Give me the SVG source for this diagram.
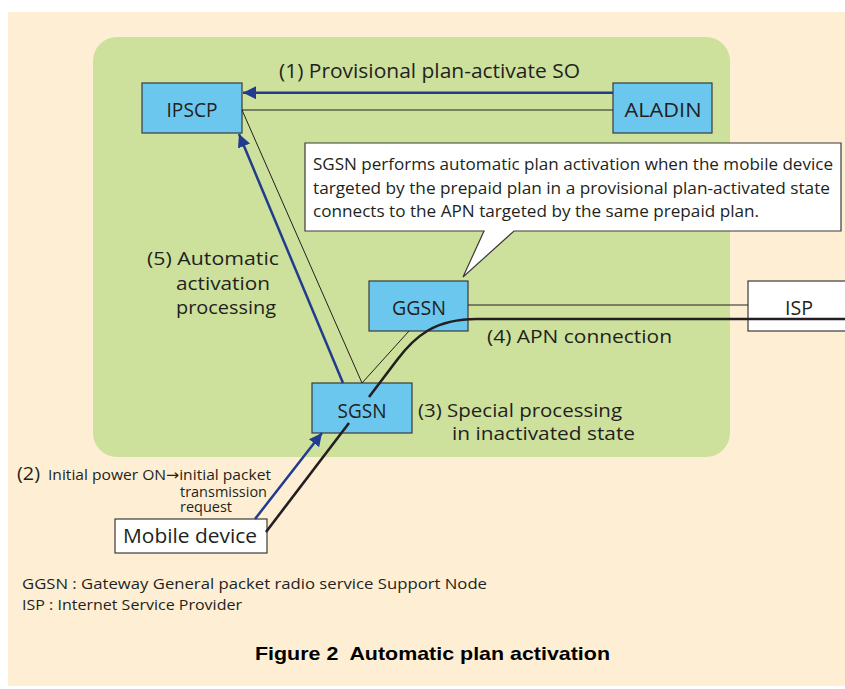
<svg xmlns="http://www.w3.org/2000/svg" width="845" height="689" viewBox="0 0 845 689">
<defs>
<style>
.t{font-family:"Open Sans","Noto Sans","DejaVu Sans",sans-serif;fill:#231f20}
.box{fill:#6cc7ef;stroke:#3a3a3a;stroke-width:1.2}
.wbox{fill:#ffffff;stroke:#3a3a3a;stroke-width:1.2}
.thin{fill:none;stroke:#231f20;stroke-width:1}
.blue{fill:none;stroke:#213c8e;stroke-width:2.5}
.thick{fill:none;stroke:#231f20;stroke-width:2.6}
.lbl{font-size:20px;text-anchor:middle}
</style>
<marker id="ah" markerUnits="userSpaceOnUse" markerWidth="14" markerHeight="14" refX="13" refY="6.5" orient="auto">
<path d="M0,0 L13,6.5 L0,13 Z" fill="#213c8e"/>
</marker>
</defs>
<rect x="0" y="0" width="845" height="689" fill="#ffffff"/>
<rect x="8" y="12" width="837" height="674" fill="#feefd4"/>
<rect x="93" y="37" width="637" height="420" rx="24" fill="#cde19d"/>

<g id="callout">
<path d="M305 143 H841 V231 H514 L463 277 L484 231 H305 Z" fill="#ffffff" stroke="#3a3a3a" stroke-width="1.2"/>
<text class="t" x="313" y="170" font-size="16.5" textLength="520" lengthAdjust="spacingAndGlyphs">SGSN performs automatic plan activation when the mobile device</text>
<text class="t" x="313" y="193.5" font-size="16.5" textLength="517" lengthAdjust="spacingAndGlyphs">targeted by the prepaid plan in a provisional plan-activated state</text>
<text class="t" x="313" y="217" font-size="16.5" textLength="446" lengthAdjust="spacingAndGlyphs">connects to the APN targeted by the same prepaid plan.</text>
</g>

<g id="IPSCP">
<rect class="box" x="142" y="83" width="100" height="50"/>
<text class="t lbl" x="192" y="117" textLength="51" lengthAdjust="spacingAndGlyphs">IPSCP</text>
</g>
<g id="ALADIN">
<rect class="box" x="613" y="83" width="99" height="50"/>
<text class="t lbl" x="663" y="117" textLength="77" lengthAdjust="spacingAndGlyphs">ALADIN</text>
</g>
<g id="GGSN">
<rect class="box" x="369" y="281" width="99" height="50"/>
<text class="t lbl" x="419" y="315" textLength="54" lengthAdjust="spacingAndGlyphs">GGSN</text>
</g>
<g id="SGSN">
<rect class="box" x="312" y="383" width="100" height="50"/>
<text class="t lbl" x="362" y="418" textLength="49" lengthAdjust="spacingAndGlyphs">SGSN</text>
</g>
<g id="ISP">
<rect class="wbox" x="748" y="281" width="110" height="50"/>
<text class="t lbl" x="799" y="315" textLength="28" lengthAdjust="spacingAndGlyphs">ISP</text>
</g>
<g id="Mobile">
<rect class="wbox" x="115" y="519" width="152" height="34"/>
<text class="t" x="123" y="543" font-size="19.5" textLength="134" lengthAdjust="spacingAndGlyphs">Mobile device</text>
</g>

<g id="connectors">
<line class="thin" x1="242" y1="110" x2="613" y2="110"/>
<line class="thin" x1="242" y1="110" x2="362" y2="383"/>
<line class="thin" x1="409" y1="331" x2="362" y2="383"/>
<line class="thin" x1="468" y1="305" x2="748" y2="305"/>
<line class="blue" x1="613" y1="92.7" x2="243" y2="92.7" marker-end="url(#ah)"/>
<line class="blue" x1="343" y1="383" x2="239" y2="134" marker-end="url(#ah)"/>
<line class="blue" x1="255" y1="519" x2="322" y2="433" marker-end="url(#ah)"/>
<path class="thick" d="M266 532 L349 423"/>
<path class="thick" d="M369 397 L397 360 C415 336 435 319 477 319 L845 319"/>
</g>

<g id="labels">
<text class="t" x="279" y="78" font-size="19.5" textLength="301" lengthAdjust="spacingAndGlyphs">(1) Provisional plan-activate SO</text>
<text class="t" x="147" y="265" font-size="19" textLength="132" lengthAdjust="spacingAndGlyphs">(5) Automatic</text>
<text class="t" x="176" y="290" font-size="18.5" textLength="94" lengthAdjust="spacingAndGlyphs">activation</text>
<text class="t" x="176" y="314" font-size="18.5" textLength="100" lengthAdjust="spacingAndGlyphs">processing</text>
<text class="t" x="487" y="342.5" font-size="19" textLength="185" lengthAdjust="spacingAndGlyphs">(4) APN connection</text>
<text class="t" x="418" y="416.5" font-size="19" textLength="204" lengthAdjust="spacingAndGlyphs">(3) Special processing</text>
<text class="t" x="452" y="440" font-size="19" textLength="183" lengthAdjust="spacingAndGlyphs">in inactivated state</text>
<text class="t" x="17" y="479.5" font-size="18" textLength="23" lengthAdjust="spacingAndGlyphs">(2)</text>
<text class="t" x="48" y="480" font-size="15" textLength="223" lengthAdjust="spacingAndGlyphs">Initial power ON→initial packet</text>
<text class="t" x="180" y="496.5" font-size="15" textLength="87" lengthAdjust="spacingAndGlyphs">transmission</text>
<text class="t" x="180" y="512" font-size="15" textLength="52" lengthAdjust="spacingAndGlyphs">request</text>
<text class="t" x="22" y="589" font-size="14.5" textLength="465" lengthAdjust="spacingAndGlyphs">GGSN : Gateway General packet radio service Support Node</text>
<text class="t" x="22" y="610" font-size="14.5" textLength="220" lengthAdjust="spacingAndGlyphs">ISP : Internet Service Provider</text>
<text x="255" y="660" font-family="'Liberation Sans',Arial,sans-serif" font-weight="bold" font-size="19" fill="#000000" style="white-space:pre" textLength="355" lengthAdjust="spacingAndGlyphs">Figure 2  Automatic plan activation</text>
</g>
</svg>
